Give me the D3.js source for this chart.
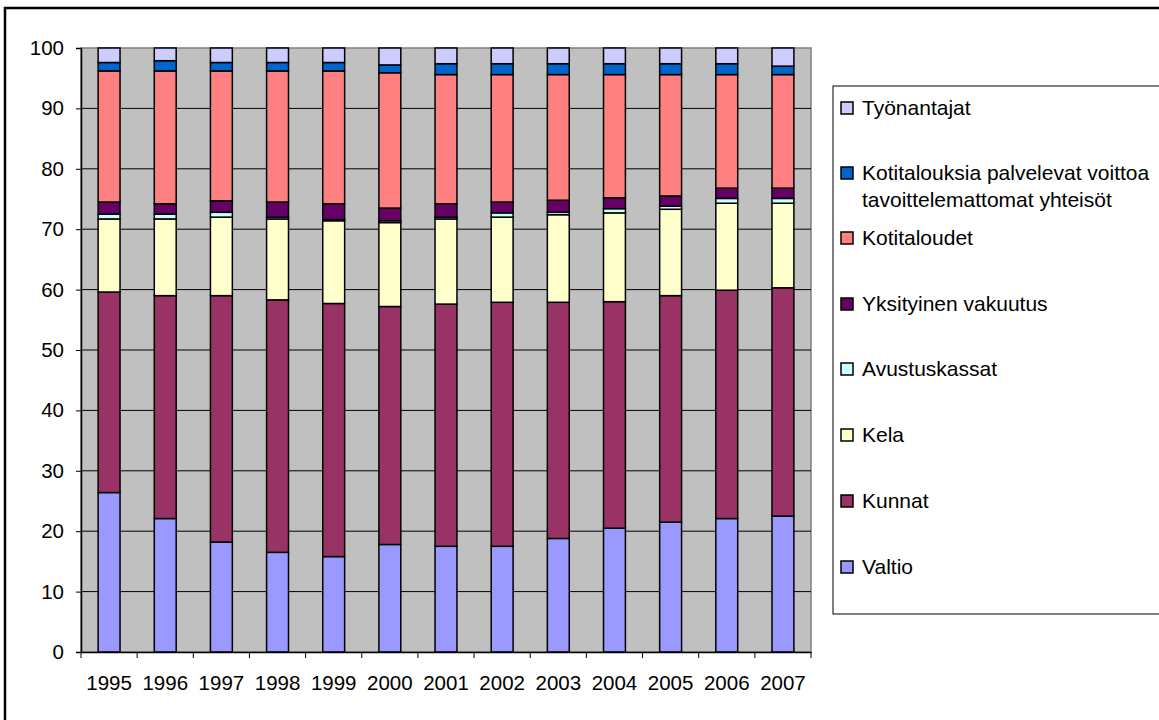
<!DOCTYPE html>
<html>
<head>
<meta charset="utf-8">
<script src="https://cdn.jsdelivr.net/npm/d3@7"></script>
<style>
  body { margin: 0; background: #fff; }
  text { font-family: "Liberation Sans", Arial, sans-serif; }
</style>
</head>
<body>
<svg id="chart" width="1159" height="720"></svg>
<script>
// vuodet
const years = ["1995","1996","1997","1998","1999","2000","2001","2002","2003","2004","2005","2006","2007"];

// rahoittajat alhaalta ylös
const series = ["Valtio","Kunnat","Kela","Avustuskassat","Yksityinen vakuutus","Kotitaloudet","Kotitalouksia palvelevat voittoa tavoittelemattomat yhteisöt","Työnantajat"];

const valtio        = [26.4, 22.1, 18.2, 16.5, 15.8, 17.8, 17.5, 17.5, 18.8, 20.5, 21.5, 22.1, 22.5];
const kunnat        = [33.2, 36.9, 40.8, 41.8, 41.9, 39.4, 40.1, 40.4, 39.1, 37.5, 37.5, 37.8, 37.8];
const kela          = [12.1, 12.7, 13.0, 13.4, 13.7, 13.9, 14.1, 14.1, 14.5, 14.7, 14.3, 14.4, 14.0];
const avustuskassat = [0.8, 0.8, 0.8, 0.3, 0.2, 0.3, 0.3, 0.7, 0.4, 0.7, 0.5, 0.8, 0.8];
const yksityinen    = [2.0, 1.7, 1.9, 2.5, 2.6, 2.1, 2.2, 1.8, 2.0, 1.8, 1.7, 1.7, 1.7];
const kotitaloudet  = [21.7, 22.0, 21.5, 21.7, 22.0, 22.4, 21.4, 21.1, 20.8, 20.4, 20.1, 18.8, 18.8];
const voittoa       = [1.4, 1.7, 1.4, 1.4, 1.4, 1.3, 1.8, 1.8, 1.8, 1.8, 1.8, 1.8, 1.4];
const tyonantajat   = [2.4, 2.1, 2.4, 2.4, 2.4, 2.8, 2.6, 2.6, 2.6, 2.6, 2.6, 2.6, 3.0];

const yTicks = [0, 10, 20, 30, 40, 50, 60, 70, 80, 90, 100];

const values = [valtio, kunnat, kela, avustuskassat, yksityinen, kotitaloudet, voittoa, tyonantajat];
const colors = ["#9999FF", "#993366", "#FFFFCC", "#CCFFFF", "#660066", "#FF8080", "#0066CC", "#CCCCFF"];

const table = years.map((y, i) => {
  const row = { year: y };
  series.forEach((s, j) => row[s] = values[j][i]);
  return row;
});

const svg = d3.select("#chart");
const m = { left: 81, top: 48, right: 811, bottom: 652 };
const fs = 20.5;

// ulkoreunus
svg.append("rect")
  .attr("x", 5).attr("y", 8).attr("width", 1170).attr("height", 730)
  .attr("fill", "#fff").attr("stroke", "#000").attr("stroke-width", 2.5);

const x = d3.scaleBand().domain(years).range([m.left, m.right]).paddingInner(0.61).paddingOuter(0.305);
const y = d3.scaleLinear().domain([0, 100]).range([m.bottom, m.top]);

// piirtoalue
svg.append("rect")
  .attr("x", m.left).attr("y", m.top)
  .attr("width", m.right - m.left).attr("height", m.bottom - m.top)
  .attr("fill", "#C0C0C0").attr("stroke", "#808080").attr("stroke-width", 1.5);

// ruudukko
svg.append("g").selectAll("line")
  .data(yTicks.filter(t => t > 0 && t < 100))
  .enter().append("line")
  .attr("x1", m.left).attr("x2", m.right)
  .attr("y1", d => y(d)).attr("y2", d => y(d))
  .attr("stroke", "#000").attr("stroke-width", 1);

const stack = d3.stack().keys(series)(table);

svg.append("g").selectAll("g")
  .data(stack)
  .enter().append("g")
  .attr("fill", (d, i) => colors[i])
  .selectAll("rect")
  .data(d => d)
  .enter().append("rect")
  .attr("x", d => x(d.data.year))
  .attr("width", x.bandwidth())
  .attr("y", d => y(d[1]))
  .attr("height", d => y(d[0]) - y(d[1]))
  .attr("stroke", "#000").attr("stroke-width", 1.5);

// y-akseli
const yAxis = svg.append("g")
  .attr("transform", `translate(${m.left},0)`)
  .call(d3.axisLeft(y).tickValues(yTicks).tickSize(5).tickPadding(12));
yAxis.select(".domain").attr("stroke", "#000").attr("stroke-width", 1.5);
yAxis.selectAll(".tick line").attr("stroke", "#000");
yAxis.selectAll("text").attr("font-size", fs).attr("fill", "#000")
  .attr("font-family", "Liberation Sans, Arial, sans-serif");

// x-akseli
const xAxis = svg.append("g")
  .attr("transform", `translate(0,${m.bottom})`)
  .call(d3.axisBottom(x).tickSize(0).tickPadding(23));
xAxis.select(".domain").attr("stroke", "#000").attr("stroke-width", 1.5);
xAxis.selectAll("text").attr("font-size", fs).attr("fill", "#000")
  .attr("font-family", "Liberation Sans, Arial, sans-serif");

// väliviivat kategorioiden rajoille
const step = x.step();
svg.append("g").selectAll("line")
  .data(d3.range(years.length + 1))
  .enter().append("line")
  .attr("x1", i => m.left + i * step).attr("x2", i => m.left + i * step)
  .attr("y1", m.bottom).attr("y2", m.bottom + 6)
  .attr("stroke", "#000").attr("stroke-width", 1);

// selite
const legend = svg.append("g");
legend.append("rect")
  .attr("x", 833).attr("y", 86).attr("width", 340).attr("height", 528)
  .attr("fill", "#fff").attr("stroke", "#000").attr("stroke-width", 1);

const legendRows = [
  { i: 7, y: 107, lines: ["Työnantajat"] },
  { i: 6, y: 172, lines: ["Kotitalouksia palvelevat voittoa", "tavoittelemattomat yhteisöt"] },
  { i: 5, y: 237, lines: ["Kotitaloudet"] },
  { i: 4, y: 303, lines: ["Yksityinen vakuutus"] },
  { i: 3, y: 368, lines: ["Avustuskassat"] },
  { i: 2, y: 434, lines: ["Kela"] },
  { i: 1, y: 500, lines: ["Kunnat"] },
  { i: 0, y: 566, lines: ["Valtio"] }
];

const items = legend.selectAll("g.item").data(legendRows).enter().append("g");
items.append("rect")
  .attr("x", 841).attr("y", d => d.y - 5)
  .attr("width", 12).attr("height", 12)
  .attr("fill", d => colors[d.i]).attr("stroke", "#000").attr("stroke-width", 1.5);
items.each(function(d) {
  const t = d3.select(this).append("text")
    .attr("x", 862).attr("y", d.y + 7.5)
    .attr("font-size", 21).attr("fill", "#000");
  d.lines.forEach((l, k) => {
    t.append("tspan").attr("x", 862).attr("dy", k === 0 ? 0 : 27.5).text(l);
  });
});
</script>
</body>
</html>
